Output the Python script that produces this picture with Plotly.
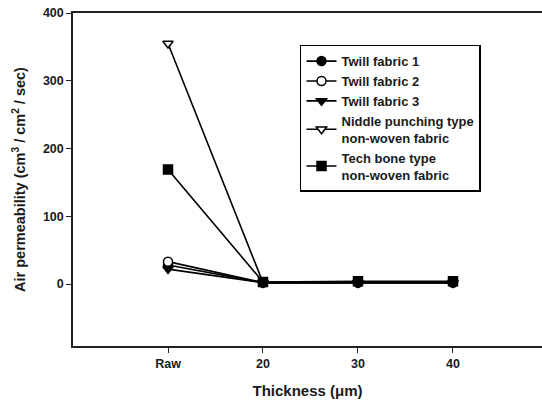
import plotly.graph_objects as go

categories = ["Raw", "20", "30", "40"]
x_pos = [0, 1, 2, 3]
twill1 = [28, 2, 2, 2]
twill2 = [33, 2, 2, 2]
twill3 = [22, 2, 2, 2]
niddle = [355, 2, 2, 2]
techbone = [169, 3, 4, 4]

series = [
    ("Twill fabric 1", twill1, "circle", "black"),
    ("Twill fabric 2", twill2, "circle", "white"),
    ("Twill fabric 3", twill3, "triangle-down", "black"),
    ("Niddle punching type<br>non-woven fabric", niddle, "triangle-down", "white"),
    ("Tech bone type<br>non-woven fabric", techbone, "square", "black"),
]

FONT = "Liberation Sans, Arial, sans-serif"
TXT = "#1a1a1a"

fig = go.Figure()
for name, vals, sym, fill in series:
    fig.add_trace(go.Scatter(
        x=x_pos, y=vals, name=name, mode="lines+markers",
        line=dict(color="black", width=1.6),
        marker=dict(symbol=sym, size=9, color=fill,
                    line=dict(color="black", width=1.5)),
    ))

fig.update_layout(
    width=542, height=402,
    margin=dict(l=73, r=0, t=13, b=56),
    paper_bgcolor="white", plot_bgcolor="white",
    font=dict(family=FONT, color=TXT, size=12, weight="bold"),
    showlegend=True,
    legend=dict(
        x=0.484, y=0.905, xanchor="left", yanchor="top",
        bgcolor="white", bordercolor="black", borderwidth=1.5,
        font=dict(family=FONT, size=13, color=TXT, weight="bold"),
        itemwidth=30, tracegroupgap=0,
    ),
    xaxis=dict(
        range=[-1, 3.937], tickmode="array", tickvals=x_pos, ticktext=categories,
        showline=True, linecolor="#222", linewidth=1.5, mirror=True,
        ticks="outside", ticklen=5, tickcolor="#222", showgrid=False, zeroline=False,
        title=dict(text="Thickness (μm)", font=dict(size=15, family=FONT, weight="bold"), standoff=16),
        tickfont=dict(size=12.5, family=FONT, weight="bold"),
    ),
    yaxis=dict(
        range=[-91.5, 400], tickmode="array", tickvals=[0, 100, 200, 300, 400],
        showline=True, linecolor="#222", linewidth=1.5,
        ticks="outside", ticklen=5, tickcolor="#222", showgrid=False, zeroline=False,
        title=dict(text="Air permeability (cm<sup>3</sup> / cm<sup>2</sup> / sec)",
                   font=dict(size=14.5, family=FONT, weight="bold"), standoff=14),
        tickfont=dict(size=12.5, family=FONT, weight="bold"),
    ),
)

fig.write_html("out.html")
